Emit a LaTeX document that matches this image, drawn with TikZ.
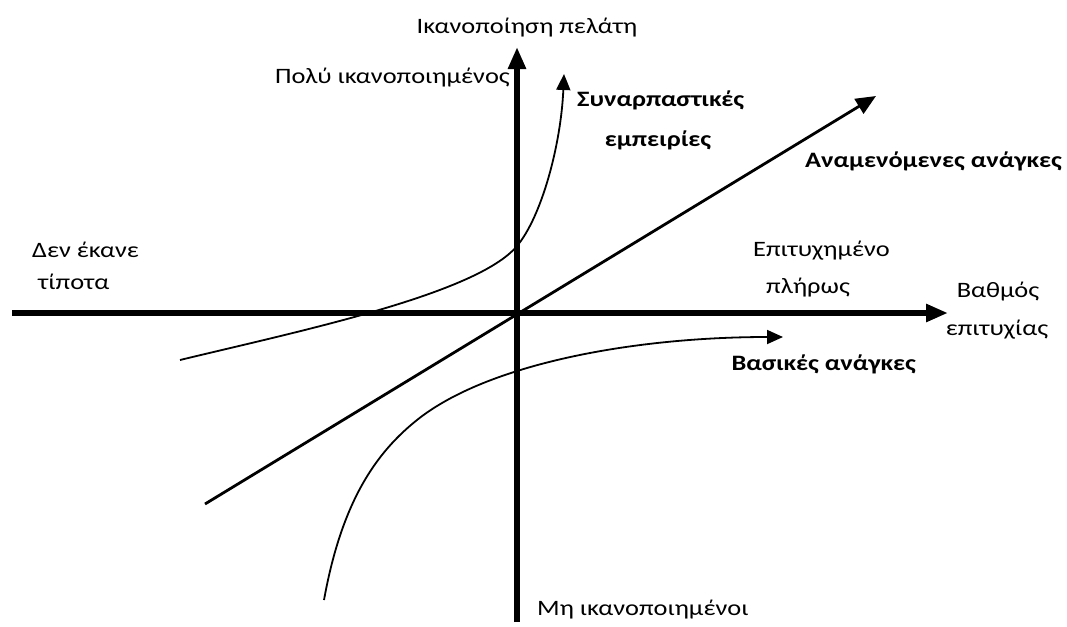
\documentclass[tikz,border=0pt]{standalone}
\usepackage{fontspec}
\setmainfont{Carlito}[FakeStretch=1.2]
\usetikzlibrary{arrows.meta}
\begin{document}
\begin{tikzpicture}[x=1pt,y=-1pt,
  axis/.style={line width=5.5pt,-{Triangle[length=22pt,width=17pt]}},
  curve/.style={line width=1.8pt,-{Triangle[length=16pt,width=14pt]}},
  sline/.style={line width=2.8pt,-{Triangle[length=20pt,width=17pt]}},
  lbl/.style={inner sep=0pt,font=\fontsize{22}{26}\selectfont},
  blbl/.style={inner sep=0pt,font=\fontsize{22}{26}\selectfont\bfseries}]
\useasboundingbox[fill=white] (0,0) rectangle (1067,626);
% axes
\coordinate (xl) at (12,313);
\coordinate (xr) at (948,313);
\coordinate (yb) at (517,622);
\coordinate (yt) at (517,47);
\draw[axis] (xl) -- (xr);
\draw[axis] (yb) -- (yt);
% expected needs
\coordinate (es) at (205,504);
\coordinate (ee) at (876,96);
\draw[sline] (es) -- (ee);
% exciting experiences
\coordinate (cs) at (180,360);
\coordinate (cm) at (517,246);
\coordinate (ce) at (564,74);
\draw[curve] (cs) .. controls (300,331) and (477,294) .. (cm)
  .. controls (542,216) and (561,144) .. (ce);
% basic needs
\coordinate (bs) at (324,600);
\coordinate (bm) at (417,420);
\coordinate (be) at (783,337);
\draw[curve] (bs) .. controls (342,500) and (377,452) .. (bm)
  .. controls (487,364) and (633,337) .. (be);
% labels
\node[lbl] (ylab) at (527,28) {Ικανοποίηση πελάτη};
\node[lbl,anchor=east] (vsat) at (510,78) {Πολύ ικανοποιημένος};
\node[lbl,anchor=west] (unsat) at (537,610) {Μη ικανοποιημένοι};
\node[blbl,anchor=west] (exc1) at (577,100) {Συναρπαστικές};
\node[blbl] (exc2) at (658,140) {εμπειρίες};
\node[blbl,anchor=east] (exp) at (1062,161) {Αναμενόμενες ανάγκες};
\node[blbl,anchor=east] (bas) at (916,364) {Βασικές ανάγκες};
\node[lbl,anchor=west] (ful1) at (753,251) {Επιτυχημένο};
\node[lbl,anchor=west] (ful2) at (766,288) {πλήρως};
\node[lbl] (xlab1) at (998,292) {Βαθμός};
\node[lbl] (xlab2) at (997,330) {επιτυχίας};
\node[lbl,anchor=west] (non1) at (32,250) {Δεν έκανε};
\node[lbl,anchor=west] (non2) at (38,282) {τίποτα};
\end{tikzpicture}
\end{document}
